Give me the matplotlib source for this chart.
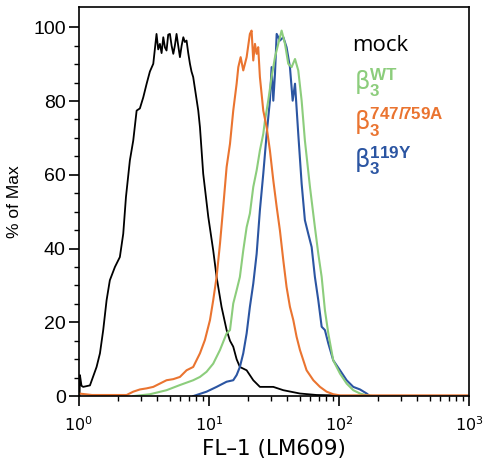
import numpy as np
import matplotlib
matplotlib.use("Agg")
from matplotlib import pyplot as plt

mock_log = [0.005, 0.008, 0.02, 0.033, 0.085, 0.136, 0.162, 0.187, 0.213, 0.238, 0.277, 0.315,
            0.341, 0.362, 0.392, 0.418, 0.444, 0.469, 0.495, 0.521, 0.546, 0.572, 0.597, 0.61,
            0.623, 0.636, 0.649, 0.662, 0.674, 0.687, 0.700, 0.713, 0.726, 0.738, 0.751, 0.764,
            0.777, 0.79, 0.803, 0.815, 0.828, 0.841, 0.854, 0.866, 0.879, 0.918, 0.931, 0.956,
            0.995, 1.033, 1.059, 1.097, 1.136, 1.162, 1.187, 1.213, 1.238, 1.29, 1.341, 1.392,
            1.495, 1.572, 1.7, 1.828, 1.956, 2.0]
mock_pct = [0, 5.7, 2.8, 2.5, 2.9, 7.9, 11.6, 17.9, 26.0, 31.4, 35.0, 37.7,
            44.0, 54.0, 63.9, 69.3, 77.4, 78, 81.0, 84.7, 88, 90.1, 98.2, 94,
            95.5, 93, 97.3, 94.5, 93.7, 98, 98.2, 95, 92.8, 95, 98.2, 95,
            91.9, 95, 97.3, 96, 96.4, 93, 90.1, 88, 86.5, 77.4, 72.9, 60.3,
            48.6, 39.5, 32.3, 24.2, 17.9, 15, 13.4, 10, 7.9, 7.0, 4.3, 2.5,
            2.5, 1.6, 0.7, 0.3, 0.2, 0]

wt_log = [0.418, 0.546, 0.674, 0.777, 0.879, 0.931, 0.982, 1.033, 1.085, 1.136, 1.162, 1.187,
          1.213, 1.238, 1.264, 1.29, 1.315, 1.341, 1.367, 1.392, 1.418, 1.431, 1.456, 1.482,
          1.508, 1.533, 1.559, 1.585, 1.610, 1.636, 1.662, 1.687, 1.713, 1.738, 1.777, 1.815,
          1.841, 1.867, 1.892, 1.918, 1.956, 2.008, 2.059, 2.11, 2.162, 2.213, 2.264]
wt_pct = [0, 0.5, 1.6, 3.0, 4.3, 5.2, 6.6, 8.8, 12.5, 17.0, 17.9, 25.1,
          28.7, 32.3, 39.5, 45.8, 49.5, 56.7, 61.2, 66.6, 71.1, 74.7, 80.1, 86.5,
          91.9, 95.5, 99.1, 95.5, 90.1, 89.2, 91.4, 88.3, 80.1, 69.3, 56.7, 45.8,
          38.6, 32.3, 23.3, 17.0, 9.7, 6.1, 3.4, 1.6, 0.7, 0.2, 0]

mut_log = [0.0, 0.1, 0.367, 0.418, 0.469, 0.521, 0.572, 0.623, 0.674, 0.726, 0.777, 0.828,
           0.879, 0.931, 0.969, 1.008, 1.033, 1.059, 1.085, 1.110, 1.136, 1.162, 1.187, 1.213,
           1.226, 1.244, 1.264, 1.29, 1.315, 1.328, 1.341, 1.354, 1.367, 1.379, 1.392, 1.418,
           1.444, 1.469, 1.495, 1.521, 1.546, 1.572, 1.597, 1.623, 1.649, 1.674, 1.7, 1.751,
           1.803, 1.854, 1.905, 1.956, 2.008, 2.213, 3.0]
mut_pct = [0.7, 0.3, 0.3, 1.2, 1.8, 2.1, 2.5, 3.4, 4.3, 4.6, 5.2, 7.0,
           7.9, 11.6, 15.2, 20.6, 26.0, 32.3, 41.3, 51.3, 62.1, 68.4, 77.4, 84.7,
           89.2, 91.9, 88.3, 91.9, 98.2, 99.1, 91.0, 95.5, 92.8, 94.6, 86.5, 77.4,
           72.9, 66.6, 58.5, 51.3, 44.9, 36.8, 29.6, 24.2, 20.6, 16.1, 12.5, 7.0,
           4.3, 2.5, 1.2, 0.5, 0.2, 0.2, 0.2]

y119_log = [0.879, 0.982, 1.059, 1.136, 1.187, 1.213, 1.238, 1.264, 1.29, 1.315, 1.341, 1.367,
            1.392, 1.418, 1.444, 1.469, 1.482, 1.495, 1.508, 1.521, 1.546, 1.572, 1.597, 1.623,
            1.644, 1.662, 1.687, 1.713, 1.738, 1.764, 1.79, 1.815, 1.841, 1.867, 1.892, 1.918,
            1.956, 2.008, 2.059, 2.11, 2.162, 2.213, 2.238]
y119_pct = [0, 1.2, 2.5, 3.9, 4.3, 5.7, 7.9, 11.6, 17.0, 24.2, 30.5, 38.6,
            50.4, 60.3, 71.1, 80.1, 89.2, 80.1, 87.4, 98.2, 96.4, 97.3, 94.6, 89.2,
            80.1, 84.7, 71.1, 57.6, 47.7, 44.0, 40.4, 32.3, 26.0, 18.8, 17.9, 14.3,
            9.7, 7.0, 4.3, 2.5, 1.8, 0.7, 0]

c_wt = '#8ccd7c'
c_mut = '#ea7430'
c_119 = '#2b55a2'

plt.rcParams['mathtext.fontset'] = 'custom'
plt.rcParams['mathtext.bf'] = 'Liberation Sans:bold'
plt.rcParams['mathtext.rm'] = 'DejaVu Sans'

fig = plt.figure(figsize=(4.84, 4.66), dpi=100)
ax = fig.add_axes([0.163, 0.150, 0.806, 0.835])

ax.plot(10 ** np.array(mock_log), mock_pct, color='black', lw=1.3)
ax.plot(10 ** np.array(y119_log), y119_pct, color=c_119, lw=1.5)
ax.plot(10 ** np.array(wt_log), wt_pct, color=c_wt, lw=1.5)
ax.plot(10 ** np.array(mut_log), mut_pct, color=c_mut, lw=1.5)

ax.set_xscale('log')
ax.set_xlim(1, 1000)
ax.set_ylim(0, 105.5)
ax.set_yticks([0, 20, 40, 60, 80, 100])
ax.set_yticks(np.arange(0, 105, 5), minor=True)
ax.tick_params(axis='both', which='major', direction='out', length=7.5, width=1.2, color='black')
ax.tick_params(axis='both', which='minor', direction='out', length=3.5, width=1.0)
ax.tick_params(axis='y', labelsize=14, pad=2)
ax.tick_params(axis='x', labelsize=11.5, pad=6)
for lab in ax.get_yticklabels():
    lab.set_family('Liberation Sans')
for s in ax.spines.values():
    s.set_linewidth(1.2)

ax.set_xlabel('FL\u20131 (LM609)', fontsize=15.5, labelpad=4)
ax.set_ylabel('% of Max', fontsize=12.5, family='Liberation Sans', labelpad=8)

ax.text(0.70, 0.888, 'mock', transform=ax.transAxes, fontsize=16, color='black',
        family='Open Sans')
ax.text(0.705, 0.787, r'β$_\mathbf{3}^\mathbf{WT}$', transform=ax.transAxes, fontsize=17.5,
        color=c_wt, family='DejaVu Sans')
ax.text(0.705, 0.684, r'β$_\mathbf{3}^\mathbf{747/759A}$', transform=ax.transAxes, fontsize=17.5,
        color=c_mut, family='DejaVu Sans')
ax.text(0.705, 0.586, r'β$_\mathbf{3}^\mathbf{119Y}$', transform=ax.transAxes, fontsize=17.5,
        color=c_119, family='DejaVu Sans')

fig.savefig('out.png', dpi=100)
